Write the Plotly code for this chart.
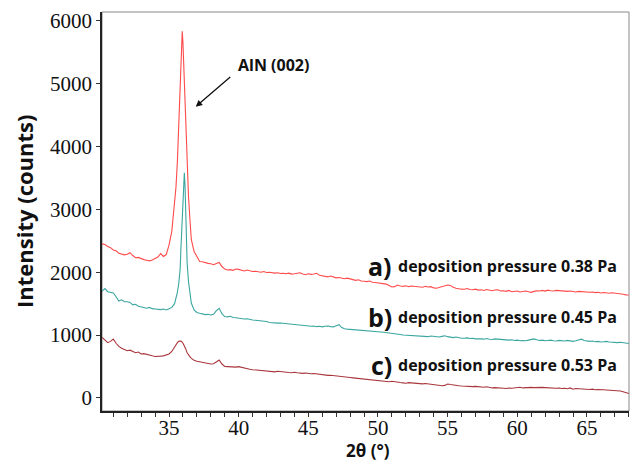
import numpy as np
import plotly.graph_objects as go

# 2theta sampling (scan grid): coarse baseline regions + fine peak region
two_theta_low = np.round(np.arange(30.2, 35.01, 0.2), 2)            # 25 pts
two_theta_peak = [35.2, 35.4, 35.5, 35.6, 35.7, 35.8, 35.85, 35.9, 35.95, 36.0,
                  36.05, 36.1, 36.15, 36.2, 36.3, 36.4, 36.5, 36.6, 36.8, 37.0]
two_theta_high = np.round(np.arange(37.2, 68.01, 0.2), 2)           # 155 pts
two_theta = list(two_theta_low) + two_theta_peak + list(two_theta_high)

# a) deposition pressure 0.38 Pa
a_low = [2450, 2440, 2410, 2390, 2353, 2340, 2300, 2290, 2275, 2285,
         2310, 2265, 2230, 2235, 2215, 2200, 2190, 2180, 2195, 2220,
         2240, 2295, 2250, 2280, 2430]
a_peak = [2650, 3050, 3350, 3750, 4450, 5100, 5450, 5700, 5830, 5650,
          5300, 5000, 4700, 4350, 3700, 3200, 2850, 2520, 2330, 2250]
a_high = [2170, 2165, 2150, 2140, 2135, 2120, 2140, 2155, 2090, 2050,
          2035, 2040, 2030, 2050, 2045, 2030, 2020, 2035, 2024, 2010,
          2015, 2005, 2000, 2010, 1995, 2000, 1990, 1985, 1992, 1980,
          1982, 1975, 1985, 1970, 1975, 1985, 1990, 1970, 1960, 1975,
          1965, 1970, 1982, 1950, 1940, 1935, 1925, 1940, 1929, 1910,
          1915, 1900, 1895, 1905, 1890, 1880, 1870, 1880, 1860, 1855,
          1850, 1860, 1840, 1835, 1830, 1825, 1820, 1810, 1790, 1765,
          1770, 1795, 1780, 1775, 1785, 1770, 1780, 1775, 1781, 1770,
          1760, 1775, 1765, 1770, 1750, 1744, 1755, 1770, 1785, 1797,
          1790, 1760, 1745, 1735, 1730, 1728, 1740, 1725, 1720, 1730,
          1715, 1720, 1710, 1725, 1715, 1705, 1717, 1720, 1700, 1705,
          1695, 1710, 1690, 1695, 1700, 1685, 1695, 1700, 1690, 1680,
          1695, 1705, 1700, 1710, 1700, 1715, 1705, 1700, 1710, 1705,
          1706, 1700, 1695, 1700, 1690, 1685, 1695, 1690, 1685, 1690,
          1680, 1685, 1675, 1680, 1670, 1678, 1672, 1665, 1674, 1670,
          1660, 1665, 1650, 1640, 1637]

# b) deposition pressure 0.45 Pa
b_low = [1700, 1740, 1690, 1680, 1670, 1610, 1540, 1560, 1530, 1531,
         1520, 1480, 1490, 1460, 1445, 1430, 1426, 1440, 1420, 1415,
         1410, 1405, 1415, 1400, 1420]
b_peak = [1440, 1500, 1580, 1680, 1820, 2050, 2350, 2650, 2980, 3280,
          3480, 3580, 3380, 2900, 2150, 1850, 1620, 1510, 1400, 1360]
b_high = [1347, 1335, 1325, 1330, 1320, 1330, 1390, 1426, 1340, 1295,
          1290, 1300, 1280, 1275, 1267, 1270, 1255, 1260, 1245, 1240,
          1235, 1229, 1232, 1220, 1215, 1200, 1195, 1187, 1190, 1192,
          1187, 1185, 1175, 1180, 1170, 1160, 1165, 1150, 1155, 1145,
          1140, 1145, 1134, 1140, 1130, 1140, 1145, 1135, 1130, 1150,
          1165, 1120, 1100, 1095, 1092, 1090, 1085, 1080, 1081, 1075,
          1070, 1065, 1068, 1060, 1054, 1050, 1045, 1040, 1030, 1035,
          1028, 1015, 1010, 1002, 1000, 995, 990, 985, 990, 986,
          985, 980, 975, 986, 980, 975, 970, 980, 990, 975,
          965, 960, 970, 955, 950, 949, 955, 945, 950, 940,
          945, 940, 935, 945, 933, 930, 940, 935, 930, 925,
          930, 920, 925, 915, 920, 911, 915, 910, 920, 930,
          940, 925, 915, 920, 910, 915, 920, 910, 905, 915,
          910, 905, 915, 905, 900, 910, 920, 935, 915, 905,
          900, 905, 895, 900, 890, 895, 900, 890, 885, 890,
          880, 885, 875, 870, 865]

# c) deposition pressure 0.53 Pa
c_low = [965, 930, 880, 900, 935, 870, 820, 790, 765, 752,
         760, 740, 720, 730, 700, 705, 690, 680, 670, 660,
         657, 665, 670, 680, 700]
c_peak = [740, 820, 860, 880, 900, 910, 905, 900, 890, 870,
          850, 830, 810, 780, 720, 680, 657, 630, 600, 585]
c_high = [577, 570, 560, 550, 540, 545, 580, 604, 540, 500,
          498, 495, 500, 490, 498, 485, 480, 470, 456, 450,
          445, 448, 440, 430, 425, 420, 418, 415, 425, 418,
          410, 412, 405, 402, 410, 400, 395, 392, 398, 390,
          385, 390, 382, 375, 370, 366, 360, 362, 355, 350,
          345, 340, 335, 330, 325, 320, 315, 313, 310, 305,
          300, 297, 290, 285, 280, 275, 270, 265, 259, 265,
          255, 250, 245, 240, 235, 244, 240, 235, 230, 228,
          225, 230, 223, 215, 210, 205, 200, 195, 200, 223,
          215, 205, 200, 195, 190, 185, 188, 182, 180, 185,
          180, 175, 170, 178, 165, 160, 165, 158, 160, 155,
          150, 158, 154, 160, 165, 170, 160, 165, 170, 168,
          165, 170, 172, 168, 165, 160, 155, 160, 154, 158,
          150, 155, 148, 160, 140, 150, 145, 140, 145, 140,
          135, 140, 130, 135, 128, 130, 127, 125, 128, 120,
          115, 110, 100, 85, 70]

series_a = a_low + a_peak + a_high
series_b = b_low + b_peak + b_high
series_c = c_low + c_peak + c_high

series_names = ["deposition pressure 0.38 Pa", "deposition pressure 0.45 Pa",
                "deposition pressure 0.53 Pa"]
series_letters = ["a)", "b)", "c)"]
series_colors = ["#FF4A4A", "#3AA6A0", "#A8363C"]
label_levels = [2099, 1293, 525]

x_ticks = [35, 40, 45, 50, 55, 60, 65]
y_ticks = [0, 1000, 2000, 3000, 4000, 5000, 6000]

fig = go.Figure()
for vals, name, col in zip([series_a, series_b, series_c], series_names, series_colors):
    fig.add_trace(go.Scatter(x=two_theta, y=vals, mode="lines", name=name,
                             line=dict(color=col, width=1.1), showlegend=False))

serif = "Liberation Serif, Times New Roman, serif"
sans = "Open Sans, Liberation Sans, sans-serif"

fig.update_layout(
    width=632, height=463,
    margin=dict(l=102, r=3, t=12, b=52),
    paper_bgcolor="white", plot_bgcolor="white",
    xaxis=dict(range=[30.19, 68.02], tickvals=x_ticks, ticktext=[str(v) for v in x_ticks],
               ticks="outside", ticklen=4, tickwidth=1, tickcolor="#333",
               ticklabelstandoff=-7,
               showline=True, linecolor="#222", linewidth=1.5, showgrid=False, zeroline=False,
               tickfont=dict(family=serif, size=21, color="#111"),
               minor=dict(dtick=1, tick0=30, ticks="outside", ticklen=4, tickcolor="#333",
                          showgrid=False)),
    yaxis=dict(range=[-207, 6137], tickvals=y_ticks, ticks="outside", ticklen=4,
               tickwidth=1, tickcolor="#333",
               showline=True, linecolor="#222", linewidth=1.5, showgrid=False, zeroline=False,
               tickfont=dict(family=serif, size=21, color="#111")),
)

fig.add_shape(type="rect", xref="paper", yref="paper", x0=0, y0=0, x1=1, y1=1,
              line=dict(color="#888", width=1), layer="below")

ann = []
# axis titles
ann.append(dict(text="<b>2θ (°)</b>", xref="paper", yref="paper", x=(368 - 102) / 527,
                y=-(450 - 411) / 399, xanchor="center", yanchor="middle", showarrow=False,
                borderpad=0, font=dict(family=sans, size=17, color="#111")))
ann.append(dict(text="<b>Intensity (counts)</b>", xref="paper", yref="paper",
                x=-(102 - 24) / 527, y=(411 - 212) / 399, xanchor="center", yanchor="middle",
                textangle=-90, showarrow=False, font=dict(family=sans, size=22, color="#111")))
# peak label and arrow
ann.append(dict(text="<b>AlN (002)</b>", x=42.47, y=5294, xanchor="center", yanchor="middle",
                showarrow=False, font=dict(family=sans, size=16, color="#111")))
ann.append(dict(text="", x=36.92, y=4631, ax=36, ay=-31, axref="pixel", ayref="pixel",
                showarrow=True, arrowhead=2, arrowsize=1, arrowwidth=1.3, arrowcolor="#111",
                standoff=0))
# series labels
for letter, name, lvl in zip(series_letters, series_names, label_levels):
    ann.append(dict(text="<b>" + letter + "</b>", x=51.17, y=lvl, xanchor="right",
                    yanchor="middle", showarrow=False,
                    font=dict(family=sans, size=25, color="#111")))
    ann.append(dict(text="<b>" + name + "</b>", x=51.3, y=lvl, xanchor="left",
                    yanchor="middle", showarrow=False,
                    font=dict(family=sans, size=16, color="#111")))
fig.update_layout(annotations=ann)

fig.write_html("out.html", config={"displayModeBar": False},
               post_script="document.body.style.margin='0';document.body.style.padding='0';"
                           "document.documentElement.style.overflow='hidden';")
